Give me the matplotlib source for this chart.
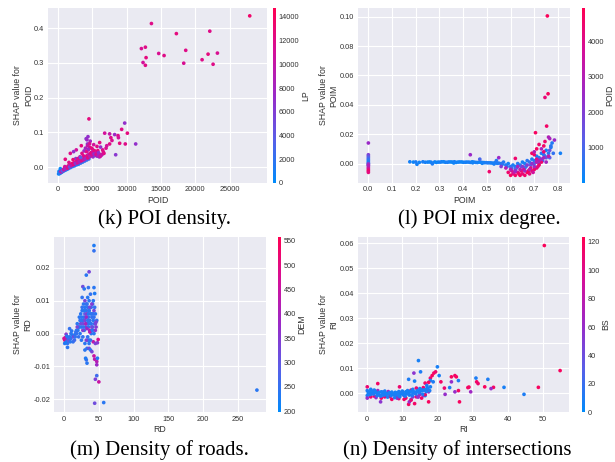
import numpy as np
import matplotlib
matplotlib.use("Agg")
import matplotlib.pyplot as plt
from matplotlib.colors import LinearSegmentedColormap

# ---- (k) POI density: POID vs SHAP, coloured by LP ----
poid_x = [27900, 13600, 17230, 22090, 12140, 12720, 12820, 12380, 12720, 14660, 15440, 18590, 18300, 20970, 21840, 23200, 22570,
          100, 250, 400, 550, 700, 900, 1100, 1300, 1500, 1800, 2100, 2400, 2700, 3000, 3300, 3600, 3900, 4200, 4500, 150, 300, 500, 350,
          600, 900, 1200, 1500, 1800, 2100, 2400, 2700, 3000, 3300, 3600, 3900, 4200, 4500, 4800, 5100, 5400, 5700, 6000, 6300, 4100, 4300, 4000, 3800, 2600,
          300, 500, 700, 900, 1200, 1500, 1800, 2100, 2400, 2700, 3000, 3300, 3600, 3900, 4200, 4500, 4800, 5100, 5400, 5700, 6000, 6400, 6700,
          4400, 4600, 4300, 3500, 2900, 2200, 1600, 1000, 5000, 5300, 5600, 4700, 3200, 3700,
          4510, 9710, 9270, 10100, 6800, 7520, 8250, 8740, 11310, 9800, 8980, 7860, 8400, 7520, 6070, 5680, 4370, 4220, 3400, 2670,
          2280, 1800, 1070, 4700, 5200, 6500, 7000, 5800, 8800, 7700, 6200,
          200, 450, 650, 850, 1050, 1400, 1700, 1950, 2250, 2550, 2850, 3150, 3450, 3750, 4050, 4350, 4650, 4950, 5250, 5550, 5850, 6150,
          4150, 4450, 4600, 4900, 3300, 5900, 6600, 7100]
poid_shap = [0.435, 0.413, 0.384, 0.391, 0.341, 0.345, 0.315, 0.301, 0.293, 0.327, 0.321, 0.336, 0.299, 0.309, 0.325, 0.328, 0.296,
             -0.019, -0.018, -0.016, -0.014, -0.012, -0.010, -0.008, -0.006, -0.004, -0.001, 0.002, 0.004, 0.007, 0.009, 0.012, 0.015, 0.018, 0.021, 0.024, -0.012, -0.010, -0.011, -0.004,
             -0.012, -0.007, -0.004, -0.001, 0.003, 0.006, 0.009, 0.012, 0.015, 0.018, 0.021, 0.024, 0.028, 0.030, 0.033, 0.030, 0.034, 0.032, 0.030, 0.035, 0.082, 0.067, 0.055, 0.047, 0.025,
             -0.015, -0.011, -0.008, -0.004, 0.000, 0.004, 0.008, 0.011, 0.014, 0.017, 0.019, 0.021, 0.024, 0.027, 0.033, 0.038, 0.042, 0.045, 0.043, 0.040, 0.038, 0.036, 0.040,
             0.050, 0.058, 0.062, 0.040, 0.025, 0.022, 0.014, 0.002, 0.052, 0.048, 0.044, 0.036, 0.030, 0.033,
             0.139, 0.127, 0.109, 0.098, 0.098, 0.096, 0.094, 0.091, 0.067, 0.067, 0.069, 0.077, 0.036, 0.067, 0.071, 0.060, 0.088, 0.079, 0.062, 0.050,
             0.045, 0.040, 0.023, 0.075, 0.065, 0.050, 0.055, 0.048, 0.085, 0.085, 0.058,
             -0.017, -0.013, -0.010, -0.007, -0.005, -0.002, 0.001, 0.005, 0.008, 0.011, 0.013, 0.016, 0.019, 0.022, 0.025, 0.027, 0.031, 0.036, 0.038, 0.037, 0.033, 0.031,
             0.045, 0.052, 0.068, 0.055, 0.028, 0.042, 0.044, 0.062]
lp = [13500, 12000, 12500, 12000, 11500, 12000, 12500, 11000, 12000, 11500, 12000, 12000, 11500, 12000, 12500, 11500, 12000,
      300, 500, 700, 400, 900, 600, 1200, 800, 1500, 1000, 1800, 1300, 2000, 1600, 2200, 1900, 2500, 2100, 2800, 200, 400, 600, 300,
      6000, 7000, 6500, 8000, 7000, 6000, 7500, 8000, 6500, 7000, 6000, 7500, 7000, 6500, 8000, 7000, 6000, 7500, 7000, 6500, 6500, 7000, 8000, 7500, 6000,
      11000, 12500, 10000, 13000, 11500, 12000, 10500, 13500, 11000, 12000, 9500, 13000, 10500, 12000, 11500, 9500, 12500, 11000, 10000, 12500, 11500, 10000, 12000,
      11000, 12500, 10000, 12000, 11500, 13000, 12000, 11000, 10500, 12500, 11000, 13000, 10000, 12000,
      12500, 7000, 12000, 12500, 11000, 10000, 7500, 12000, 7000, 12000, 12500, 11500, 6500, 12000, 12500, 12000, 7000, 7500, 12500, 11000,
      7000, 12000, 12500, 8000, 11000, 12000, 11500, 12500, 11000, 12000, 7000,
      1500, 9000, 3500, 11000, 8000, 12000, 5000, 10000, 12500, 6500, 11000, 8500, 12000, 10000, 7500, 12500, 9000, 11500, 7000, 12000, 8500, 11000,
      12000, 7500, 11500, 12500, 4000, 7000, 12000, 11000]

# ---- (l) POI mix degree: POIM vs SHAP, coloured by POID ----
poim_x = [0, 0, 0, 0, 0, 0, 0, 0, 0, 0, 0, 0, 0, 0, 0, 0,
          0.175, 0.19, 0.20, 0.205, 0.215, 0.23, 0.25, 0.265, 0.27, 0.28, 0.295, 0.31, 0.325, 0.34, 0.355, 0.37, 0.385, 0.40,
          0.415, 0.43, 0.445, 0.46, 0.475, 0.49, 0.505, 0.52, 0.535, 0.55, 0.36, 0.44, 0.48, 0.53,
          0.24, 0.258, 0.287, 0.303, 0.318, 0.333, 0.348, 0.363, 0.378, 0.393, 0.408, 0.423, 0.438, 0.453, 0.468, 0.483, 0.498, 0.513, 0.528, 0.543,
          0.43, 0.55, 0.47, 0.51, 0.62, 0.54,
          0.56, 0.58, 0.60, 0.62, 0.64, 0.66, 0.68, 0.70, 0.72, 0.74, 0.76, 0.78, 0.57, 0.59, 0.61, 0.63, 0.65, 0.67, 0.69,
          0.71, 0.73, 0.75, 0.77, 0.775, 0.81, 0.70, 0.66, 0.62, 0.75, 0.72,
          0.565, 0.585, 0.605, 0.625, 0.645, 0.665, 0.685, 0.705, 0.725, 0.745, 0.765, 0.735, 0.715, 0.695,
          0.59, 0.60, 0.61, 0.62, 0.63, 0.64, 0.65, 0.66, 0.67, 0.68, 0.69, 0.70, 0.71, 0.72, 0.73, 0.605, 0.645, 0.685, 0.655,
          0.70, 0.71, 0.74, 0.615, 0.635, 0.675, 0.695, 0.715,
          0.60, 0.62, 0.64, 0.66, 0.68, 0.70, 0.72, 0.74, 0.76, 0.65, 0.69, 0.73, 0.67, 0.75, 0.71, 0.63, 0.58, 0.56,
          0.755, 0.758, 0.745, 0.752, 0.705, 0.76, 0.765, 0.785, 0.72, 0.74, 0.71, 0.77, 0.745, 0.765, 0.73, 0.69, 0.70]
poim_shap = [0.014, 0.006, 0.005, 0.004, 0.003, 0.002, 0.001, 0.000, -0.001, -0.002, -0.003, -0.004, -0.005, -0.006, 0.000, -0.001,
             0.0012, 0.0010, 0.0011, -0.0005, 0.0008, 0.0012, 0.0010, 0.0009, -0.0002, 0.0011, 0.0010, 0.0012, 0.0009, 0.0011, 0.0010, 0.0008, 0.0011, 0.0009,
             0.0010, 0.0008, 0.0010, 0.0007, 0.0009, 0.0006, 0.0005, 0.0004, 0.0006, 0.0003, 0.0004, 0.0005, 0.0002, -0.0003,
             0.0009, 0.0011, 0.0008, 0.0010, 0.0012, 0.0009, 0.0011, 0.0012, 0.0010, 0.0011, 0.0009, 0.0010, 0.0012, 0.0008, 0.0010, 0.0007, 0.0006, 0.0005, 0.0003, 0.0002,
             0.006, 0.004, 0.003, -0.0055, 0.0035, 0.002,
             0.000, -0.001, -0.002, -0.002, -0.001, 0.000, 0.001, 0.002, 0.004, 0.006, 0.007, 0.007, 0.001, 0.000, -0.001, 0.000, 0.001, 0.002, 0.003,
             0.005, 0.007, 0.009, 0.011, 0.014, 0.007, 0.000, -0.003, -0.004, 0.004, 0.000,
             -0.0005, -0.002, -0.003, -0.003, -0.002, -0.002, -0.001, 0.001, 0.003, 0.005, 0.004, 0.002, 0.002, 0.000,
             -0.006, -0.008, -0.007, -0.008, -0.006, -0.008, -0.007, -0.008, -0.006, -0.007, -0.005, -0.004, -0.003, -0.001, 0.001, -0.005, -0.005, -0.003, -0.004,
             0.006, 0.003, 0.008, -0.006, -0.007, -0.005, -0.006, -0.002,
             -0.004, -0.005, -0.004, -0.005, -0.004, -0.002, 0.002, 0.004, 0.005, -0.002, 0.000, 0.003, -0.001, 0.001, 0.001, -0.002, -0.003, -0.002,
             0.1005, 0.0475, 0.045, 0.0255, 0.021, 0.018, 0.017, 0.016, 0.013, 0.012, 0.010, 0.012, 0.015, 0.009, 0.010, 0.007, 0.008]
poid_c = [2500, 2000, 1500, 1200, 800, 600, 400, 300, 1500, 2500, 3500, 4000, 4500, 4200, 2000, 3000,
          300, 200, 400, 300, 250, 350, 200, 300, 400, 250, 300, 200, 350, 300, 250, 200, 300, 350,
          250, 300, 200, 350, 300, 250, 400, 300, 350, 500, 200, 300, 250, 400,
          300, 250, 200, 300, 250, 350, 200, 300, 250, 200, 300, 350, 250, 300, 200, 300, 400, 350, 300, 400,
          2500, 2500, 1000, 4500, 4500, 500,
          500, 400, 600, 300, 500, 400, 700, 500, 600, 400, 500, 700, 500, 300, 400, 500, 300, 600, 400,
          300, 500, 300, 400, 500, 300, 800, 900, 1000, 1500, 1800,
          600, 700, 900, 1200, 1000, 800, 1300, 1100, 700, 900, 1200, 1000, 800, 1400,
          4500, 4800, 4200, 4600, 4000, 4700, 4300, 4500, 4800, 4200, 4500, 4600, 4400, 4700, 4500, 4000, 4400, 4100, 3800,
          4500, 4000, 4300, 3500, 4600, 4800, 3600, 4200,
          3000, 2500, 3200, 2800, 3000, 2500, 3000, 2800, 3200, 2200, 2400, 2600, 2000, 2700, 3100, 2700, 3000, 2000,
          4800, 4700, 4300, 4600, 4700, 3000, 2800, 2500, 4500, 4600, 4700, 600, 4500, 1500, 2800, 4600, 3000]

# ---- (m) Density of roads: RD vs SHAP, coloured by DEM ----
rd_x = [43, 43, 36, 32, 27, 29, 35, 43, 44, 277, 57, 44, 50, 47, 45, 47, 47, 44, 43, 48,
        33, 32, 31, 30, 33, 36, 38, 40, 36, 34, 42, 45, 48,
        0, 1, 2, 3, 4, 5, 1, 2, 6, 8, 10, 12, 14, 16, 18, 5, 8, 3, 10, 13, 15, 7, 11,
        20, 22, 24, 26, 28, 30, 32, 34, 36, 38, 40, 42, 44, 46, 21, 23, 25, 27, 29, 31, 33, 35, 37, 39, 41, 43, 45, 47,
        24, 26, 28, 30, 32, 34, 36, 38, 40, 42, 44, 25, 27, 29, 31, 33, 35, 37, 39, 41, 43,
        30, 32, 34, 36, 38, 40, 28, 30, 35, 40, 45, 22, 26, 18, 16, 19, 37, 33, 46, 49,
        23, 25, 27, 29, 31, 33, 35, 37, 39, 41, 43, 45, 26, 28, 30, 32, 34, 36, 38, 40, 42, 21, 17, 19, 9, 6, 4]
rd_shap = [0.0268, 0.0252, 0.0188, 0.0178, 0.0143, 0.0136, 0.0140, 0.0140, 0.0122, -0.0172, -0.0210, -0.0212, -0.0147, -0.0128, -0.0139, -0.0095, -0.0085, -0.0078, -0.0068, -0.0075,
           -0.0090, -0.0080, -0.0075, -0.0050, -0.0045, -0.0045, -0.0050, -0.0055, -0.0020, -0.0020, -0.0025, -0.0030, -0.0028,
           -0.0015, -0.0020, -0.0012, -0.0018, -0.0025, -0.0030, -0.0030, -0.0028, -0.0020, -0.0010, -0.0015, -0.0005, -0.0010, -0.0002, 0.0000, -0.0042, 0.0015, -0.0002, 0.0000, -0.0025, -0.0020, -0.0022, 0.0008,
           0.001, 0.002, 0.003, 0.004, 0.005, 0.006, 0.007, 0.008, 0.007, 0.006, 0.005, 0.004, 0.003, 0.002, -0.001, 0.000, 0.002, 0.003, 0.004, 0.005, 0.006, 0.005, 0.004, 0.008, 0.009, 0.007, 0.006, 0.004,
           0.006, 0.008, 0.009, 0.010, 0.009, 0.011, 0.010, 0.012, 0.009, 0.010, 0.008, -0.002, -0.001, 0.001, 0.002, 0.003, 0.002, 0.001, 0.000, 0.002, 0.000,
           -0.003, -0.002, -0.001, -0.003, -0.002, 0.001, 0.007, 0.004, 0.003, 0.006, 0.003, 0.005, 0.011, 0.001, -0.001, 0.003, 0.0005, 0.0015, 0.0035, -0.0018,
           0.004, 0.005, 0.001, 0.007, 0.003, 0.009, 0.006, 0.008, 0.003, 0.001, 0.005, 0.001, 0.007, 0.002, 0.008, 0.005, 0.004, 0.007, 0.003, 0.002, 0.006, 0.002, 0.0005, 0.002, -0.0025, -0.0012, -0.0008]
dem = [230, 250, 330, 240, 320, 240, 250, 240, 230, 240, 240, 320, 450, 260, 340, 380, 420, 430, 450, 240,
       240, 250, 230, 240, 250, 320, 240, 330, 240, 250, 440, 340, 350,
       480, 500, 470, 420, 240, 250, 240, 230, 250, 240, 250, 240, 330, 240, 250, 240, 250, 350, 240, 250, 260, 300, 240,
       240, 250, 330, 240, 250, 300, 240, 250, 340, 240, 250, 240, 230, 350, 250, 240, 240, 320, 250, 240, 360, 250, 240, 250, 240, 330, 240, 250,
       240, 250, 240, 330, 250, 240, 240, 250, 350, 240, 250, 240, 250, 240, 360, 240, 250, 430, 240, 250, 240,
       240, 340, 250, 240, 250, 240, 250, 320, 250, 240, 330, 240, 250, 240, 250, 240, 420, 380, 330, 480,
       250, 240, 340, 240, 400, 250, 240, 330, 250, 240, 250, 360, 240, 250, 240, 380, 250, 240, 240, 320, 250, 240, 250, 330, 240, 250, 240]

# ---- (n) Density of intersections: RI vs SHAP, coloured by BS ----
ri_x = [50.5, 55, 48.8, 44.7, 39, 36, 35.3, 34.4, 33.5, 31.2, 31, 31.6, 29, 28.7, 29.5, 26.3, 26, 25.4, 25, 24, 24, 23.5, 25, 26, 22,
        22.2, 21, 20.5, 20, 19.5, 19, 18.5, 18, 18, 14.6, 15.2, 13.3, 11.8, 13.5, 16.5, 17.5, 18.8,
        11.8, 13.5, 12, 3.8, 3, 9.2, 17.5, 15.5, 16, 17, 14, 12.5,
        0, 0, 0, 0, 0.5, 1, 1, 1.5, 2, 2, 2.5, 3, 3.5, 4, 4, 4.5, 5, 5, 5.5, 6, 6.5, 7, 7, 7.5, 8, 8.5, 9, 9, 9.5, 10,
        10.5, 11, 11, 11.5, 12, 12.5, 13, 13, 13.5, 14, 14.5, 15, 15, 15.5, 16, 16.5, 17, 17, 17.5, 18,
        1, 2, 3, 4, 5, 6, 7, 8, 9, 10, 11, 12, 13, 14, 15, 16, 17, 2.5, 6.5, 8.5, 10.5, 12.5, 14.5, 16.5,
        0.3, 0.8, 1.3, 1.8, 2.3, 2.8, 3.3, 3.8, 4.3, 4.8, 5.3, 5.8, 6.3, 6.8, 7.3, 7.8, 8.3, 8.8, 9.3, 9.8,
        10.3, 10.8, 11.3, 11.8, 12.3, 12.8, 13.3, 13.8, 14.3, 14.8, 15.3, 15.8, 16.3, 16.8, 17.3, 17.8]
ri_shap = [0.0590, 0.0090, 0.0023, -0.0005, 0.0023, 0.0023, 0.0018, 0.0055, 0.0025, 0.0045, 0.0060, 0.0038, 0.0024, 0.0022, 0.0005, -0.0035, 0.0050, 0.0065, 0.0070, 0.0065, 0.0045, 0.0022, 0.0005, 0.0010, 0.0020,
           -0.0005, 0.0045, 0.0070, 0.0105, 0.0085, 0.0080, 0.0070, 0.0060, 0.0050, 0.0130, 0.0085, 0.0080, 0.0055, 0.0048, 0.0040, 0.0043, 0.0045,
           -0.0045, -0.0042, -0.0035, -0.0035, 0.0038, 0.0025, -0.0035, -0.0020, -0.0010, 0.0010, -0.0015, -0.0025,
           0.0025, 0.0010, -0.0010, -0.0020, 0.0005, 0.0015, -0.0015, 0.0000, 0.0012, -0.0012, 0.0003, 0.0010, -0.0008, 0.0005, -0.0020, 0.0000, 0.0008, -0.0015, -0.0005, 0.0006, -0.0010, 0.0004, -0.0025, -0.0006, 0.0003, -0.0012, 0.0006, -0.0022, -0.0004, 0.0008,
           -0.0010, 0.0005, -0.0020, 0.0010, -0.0008, 0.0012, -0.0015, 0.0015, 0.0002, 0.0020, -0.0012, 0.0018, -0.0005, 0.0010, 0.0022, -0.0010, 0.0015, 0.0030, 0.0005, 0.0025,
           -0.0003, 0.0002, -0.0005, -0.0010, 0.0002, -0.0002, 0.0001, -0.0008, -0.0003, 0.0002, -0.0002, 0.0003, 0.0000, 0.0004, 0.0006, 0.0012, 0.0018, -0.0018, -0.0014, -0.0020, -0.0025, -0.0028, -0.0016, -0.0006,
           0.0000, -0.0006, 0.0008, -0.0004, 0.0006, -0.0010, 0.0002, -0.0012, 0.0004, -0.0008, -0.0002, -0.0016, 0.0001, -0.0010, -0.0004, -0.0018, 0.0000, -0.0008, -0.0014, 0.0003,
           -0.0006, -0.0012, 0.0004, -0.0004, 0.0007, -0.0010, 0.0005, -0.0003, 0.0010, 0.0002, 0.0014, -0.0004, 0.0012, 0.0006, 0.0020, 0.0010]
bs = [120, 118, 118, 10, 8, 115, 60, 10, 118, 115, 10, 112, 118, 115, 65, 118, 10, 118, 115, 118, 60, 10, 60, 115, 110,
      60, 115, 10, 8, 110, 115, 118, 112, 10, 8, 10, 55, 10, 8, 112, 115, 10,
      118, 115, 60, 55, 115, 112, 118, 115, 60, 10, 110, 8,
      110, 10, 8, 60, 10, 8, 115, 10, 8, 110, 10, 60, 8, 10, 115, 8, 10, 110, 8, 60, 10, 8, 115, 10, 8, 60, 10, 110, 8, 10,
      60, 8, 110, 10, 8, 115, 60, 10, 8, 110, 10, 8, 60, 10, 110, 8, 115, 10, 60, 8,
      8, 10, 8, 10, 8, 10, 8, 10, 8, 10, 8, 10, 8, 10, 8, 10, 8, 60, 115, 60, 115, 110, 60, 115,
      8, 10, 8, 10, 8, 10, 8, 10, 8, 10, 8, 10, 8, 10, 8, 10, 8, 10, 8, 10,
      8, 10, 8, 10, 8, 10, 8, 10, 8, 10, 8, 10, 8, 10, 8, 10]

# shap-like red/blue colormap
red_blue = LinearSegmentedColormap.from_list(
    "red_blue", ["#008bfb", "#5a5ee8", "#9a2ac8", "#d4109a", "#ff0052"])

plt.rcParams['font.family'] = ['Liberation Sans', 'DejaVu Sans']


def dependence(fig, rect, cbar_x, x, y, c, vmin, vmax, xlim, ylim, xticks, yticks, yfmt,
               feat, color_feat, cticks, caption, cap_xy):
    ax = fig.add_axes(rect)
    ax.set_facecolor('#EAEAF2')
    ax.grid(True, color='white', linewidth=0.8)
    ax.set_axisbelow(True)
    for s in ax.spines.values():
        s.set_visible(False)
    sc = ax.scatter(x, y, c=c, cmap=red_blue, vmin=vmin, vmax=vmax, s=7, linewidths=0)
    ax.set_xlim(*xlim)
    ax.set_ylim(*ylim)
    ax.set_xticks(xticks)
    ax.set_yticks(yticks)
    ax.set_yticklabels([yfmt.format(v) for v in yticks])
    ax.tick_params(length=0, labelsize=5.3, colors='#333333', pad=2.5)
    ax.set_xlabel(feat, fontsize=6.3, color='#333333', labelpad=1.5)
    ax.set_ylabel("SHAP value for\n" + feat, fontsize=6.3, color='#333333', labelpad=1)

    cax = fig.add_axes([cbar_x, rect[1], 0.005, rect[3]])
    cb = fig.colorbar(sc, cax=cax)
    cb.outline.set_visible(False)
    cb.set_ticks(cticks)
    cb.ax.tick_params(length=0, labelsize=5.3, colors='#333333', pad=2)
    cb.set_label(color_feat, fontsize=6.3, color='#333333', labelpad=1)

    fig.text(cap_xy[0], cap_xy[1], caption, ha='center', va='center',
             fontsize=15, family='Liberation Serif')


fig = plt.figure(figsize=(6.15, 4.62), dpi=100)

dependence(fig, [0.078, 0.604, 0.356, 0.379], 0.444,
           poid_x, poid_shap, lp, 0, 14760, (-1450, 30400), (-0.045, 0.458),
           [0, 5000, 10000, 15000, 20000, 25000], [0.0, 0.1, 0.2, 0.3, 0.4], "{:.1f}",
           "POID", "LP", [0, 2000, 4000, 6000, 8000, 10000, 12000, 14000],
           "(k) POI density.", (165 / 615, 1 - 219 / 462))

dependence(fig, [0.582, 0.604, 0.345, 0.379], 0.946,
           poim_x, poim_shap, poid_c, 10, 4950, (-0.044, 0.851), (-0.0132, 0.106),
           [0.0, 0.1, 0.2, 0.3, 0.4, 0.5, 0.6, 0.7, 0.8], [0.0, 0.02, 0.04, 0.06, 0.08, 0.10], "{:.2f}",
           "POIM", "POID", [1000, 2000, 3000, 4000],
           "(l) POI mix degree.", (479 / 615, 1 - 219 / 462))

dependence(fig, [0.0878, 0.108, 0.345, 0.379], 0.452,
           rd_x, rd_shap, dem, 198, 558, (-14.4, 290.3), (-0.0239, 0.0294),
           [0, 50, 100, 150, 200, 250], [-0.02, -0.01, 0.0, 0.01, 0.02], "{:.2f}",
           "RD", "DEM", [200, 250, 300, 350, 400, 450, 500, 550],
           "(m) Density of roads.", (159 / 615, 1 - 450 / 462))

dependence(fig, [0.582, 0.108, 0.343, 0.379], 0.946,
           ri_x, ri_shap, bs, 0, 123.5, (-2.66, 57.5), (-0.0076, 0.0624),
           [0, 10, 20, 30, 40, 50], [0.0, 0.01, 0.02, 0.03, 0.04, 0.05, 0.06], "{:.2f}",
           "RI", "BS", [0, 20, 40, 60, 80, 100, 120],
           "(n) Density of intersections", (457 / 615, 1 - 450 / 462))

fig.savefig("out.png", dpi=100)
